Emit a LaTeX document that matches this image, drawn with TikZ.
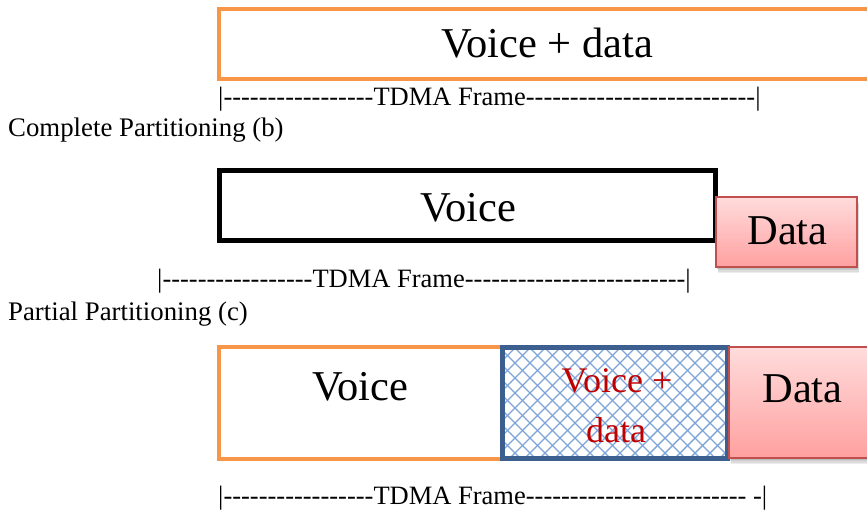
\documentclass[tikz,border=0pt]{standalone}
\usepackage{fontspec}
\setmainfont{Liberation Serif}
\newfontfamily\dashfont{Liberation Serif}[Ligatures=TeXOff]
\definecolor{orng}{HTML}{F79646}
\definecolor{bluebd}{HTML}{3C5F8F}
\definecolor{hatchc}{HTML}{7FA5D8}
\definecolor{redbd}{HTML}{C0504D}
\definecolor{pinktop}{HTML}{FFDCDC}
\definecolor{pinkbot}{HTML}{FFA0A0}
\definecolor{redtxt}{HTML}{C00000}
\begin{document}
\begin{tikzpicture}[x=1pt,y=-1pt,
  smalltxt/.style={inner sep=0pt, font=\fontsize{26.8}{30}\selectfont},
  frametxt/.style={inner sep=0pt, anchor=base west, font=\dashfont\fontsize{26.5}{30}\selectfont},
  bigtxt/.style={inner sep=0pt, anchor=base, font=\fontsize{42.5}{48}\selectfont},
  redtext/.style={inner sep=0pt, anchor=base, text=redtxt, font=\fontsize{36}{40}\selectfont},
  orangebox/.style={draw=orng, line width=4.5pt},
  blackbox/.style={draw=black, line width=5pt},
  databox/.style={draw=redbd, line width=1.5pt, top color=pinktop, bottom color=pinkbot},
  shadowlayer/.style={fill=black, opacity=0.07}
]
\useasboundingbox (0,0) rectangle (867,510);

% ---------- (a) ----------
\draw[orangebox] (219,9) rectangle (880,79);
\node[bigtxt] (vd1) at (547,58) {Voice + data};
\node[frametxt] (tdma1) at (218,106) {|-----------------TDMA Frame--------------------------|};
\node[smalltxt, anchor=base west] (cp) at (8,137) {Complete Partitioning (b)};

% ---------- (b) ----------
\draw[blackbox] (219.5,171) rectangle (715.5,240.5);
\node[bigtxt] (v2) at (468,222) {Voice};
\foreach \o in {1,2,3,4} {
  \fill[shadowlayer] (716+\o*0.6,197+\o*1.6) rectangle (857+\o*0.6,267+\o*1.6);
}
\shade[databox] (716,197) rectangle (857,267);
\draw[redbd, line width=1.5pt] (716,197) rectangle (857,267);
\node[bigtxt] (d2) at (787.5,245) {Data};
\node[frametxt] (tdma2) at (157,288) {|-----------------TDMA Frame-------------------------|};
\node[smalltxt, anchor=base west] (pp) at (8,321) {Partial Partitioning (c)};

% ---------- (c) ----------
\draw[orangebox] (219,347) rectangle (502,459);
\begin{scope}
  \clip (502,348) rectangle (727,459);
  \fill[white] (502,348) rectangle (727,459);
  \foreach \i in {0,...,34} {
    \draw[hatchc, line width=1.4pt] (380+15*\i,348) -- ++(111,111);
    \draw[hatchc, line width=1.4pt] (380+15*\i,348) -- ++(-111,111);
  }
\end{scope}
\draw[draw=bluebd, line width=5pt] (502.5,348) rectangle (727,458.5);
\node[bigtxt] (v3) at (360,400) {Voice};
\node[redtext] (vd3a) at (617,392) {Voice +};
\node[redtext] (vd3b) at (616,442) {data};
\foreach \o in {1,2,3,4} {
  \fill[shadowlayer] (729+\o*0.6,347+\o*1.6) rectangle (880,458+\o*1.6);
}
\shade[databox] (729,347) rectangle (880,458);
\draw[redbd, line width=1.5pt] (729,347) rectangle (880,458);
\node[bigtxt] (d3) at (802.5,402) {Data};
\node[frametxt] (tdma3) at (218,504) {|-----------------TDMA Frame------------------------- -|};
\end{tikzpicture}
\end{document}
